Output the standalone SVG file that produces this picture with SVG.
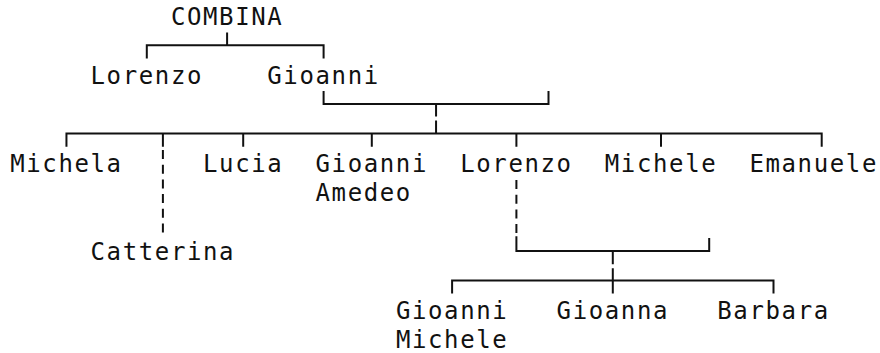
<svg xmlns="http://www.w3.org/2000/svg" width="880" height="353" viewBox="0 0 880 353">
<style>
text{font-family:"DejaVu Sans Mono","Liberation Mono",monospace;font-size:24px;letter-spacing:1.62px;fill:#111}
.c path{fill:none;stroke:#111;stroke-width:2;stroke-linecap:butt;stroke-linejoin:miter}
.c .d{stroke-dasharray:9 5.7}
</style>
<rect width="880" height="353" fill="#fff"/>
<g class="c" id="connectors">
<path d="M227.1 32.5V45.2M146.8 58.5V45.2H323.6V58.5"/>
<path d="M323.6 91V104H548.5V91M436.06 104V116.5M436.06 120.5V133.4"/>
<path d="M66.45 146.7V133.4H821.7V146.7M162.9 133.4V146.7M243.2 133.4V146.7M371.8 133.4V146.7M516.4 133.4V146.7M661 133.4V146.7"/>
<path class="d" d="M162.9 150V236"/>
<path class="d" d="M516.4 180V236"/>
<path d="M516.4 236.3V251H709.2V238M612.8 251V264.3M612.8 268.3V293.5M452.1 293.5V280.4H773.5V293.5"/>
</g>
<g id="n-combina"><text x="170.9" y="25">COMBINA</text></g>
<g id="n-lorenzo1"><text x="90.55" y="83.8">Lorenzo</text></g>
<g id="n-gioanni1"><text x="267.3" y="83.8">Gioanni</text></g>
<g id="n-michela"><text x="10.2" y="172">Michela</text></g>
<g id="n-catterina"><text x="90.55" y="260.2">Catterina</text></g>
<g id="n-lucia"><text x="203" y="172">Lucia</text></g>
<g id="n-gioanni-amedeo"><text x="315.5" y="172">Gioanni</text><text x="315.5" y="201.4">Amedeo</text></g>
<g id="n-lorenzo2"><text x="460.2" y="172">Lorenzo</text></g>
<g id="n-michele"><text x="604.8" y="172">Michele</text></g>
<g id="n-emanuele"><text x="749.4" y="172">Emanuele</text></g>
<g id="n-gioanni-michele"><text x="395.9" y="319">Gioanni</text><text x="395.9" y="348.4">Michele</text></g>
<g id="n-gioanna"><text x="556.6" y="319">Gioanna</text></g>
<g id="n-barbara"><text x="717.3" y="319">Barbara</text></g>
</svg>
